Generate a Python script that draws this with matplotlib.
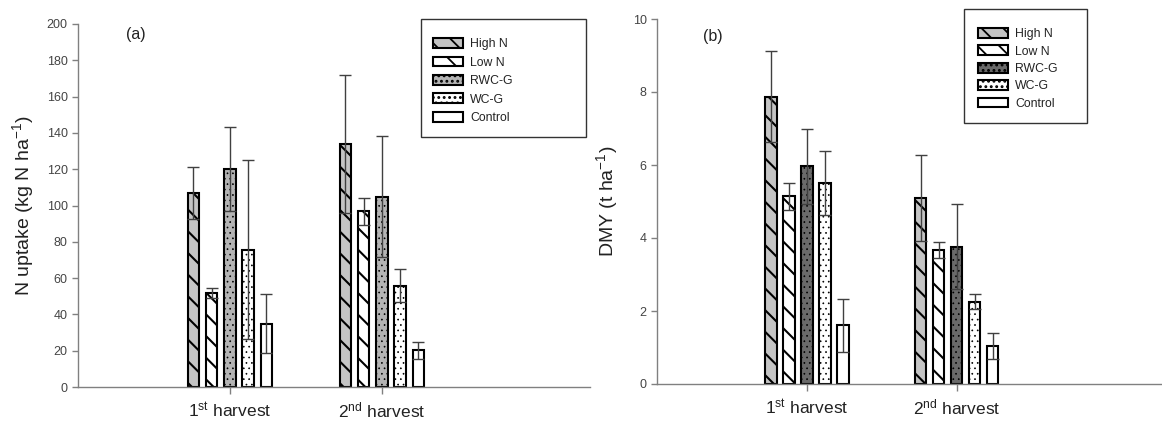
import matplotlib
matplotlib.use("Agg")
import matplotlib.pyplot as plt
from matplotlib.patches import Patch, Rectangle
import numpy as np

plt.rcParams['font.family'] = ['Liberation Sans', 'DejaVu Sans']
plt.rcParams['mathtext.fontset'] = 'custom'
plt.rcParams['mathtext.rm'] = 'Liberation Sans'
plt.rcParams['mathtext.default'] = 'regular'

treatments = ["High N", "Low N", "RWC-G", "WC-G", "Control"]
harvests = ["1$^{st}$ harvest", "2$^{nd}$ harvest"]

# (a) N uptake, kg N / ha
uptake_1st = [106.8, 51.9, 120.2, 75.6, 34.9]
uptake_2nd = [133.9, 96.9, 104.8, 55.8, 20.2]
uptake_err_1st = [14.3, 2.9, 23.3, 49.3, 16.3]
uptake_err_2nd = [37.8, 7.4, 33.4, 9.2, 4.6]

# (b) DMY, t / ha
dmy_1st = [7.87, 5.14, 5.96, 5.50, 1.61]
dmy_2nd = [5.10, 3.67, 3.76, 2.26, 1.04]
dmy_err_1st = [1.25, 0.36, 1.02, 0.87, 0.72]
dmy_err_2nd = [1.18, 0.23, 1.17, 0.20, 0.35]

# dpi 130 so the hatch spacing comes out close to the original
DPI = 130
S = 100 / DPI  # sizes below are written as if at 100 dpi

hatches = ['\\\\', '\\\\', '....', '....', '']
hatch_lw = [1.5 * S, 1.5 * S, 0.5 * S, 0.5 * S, 1.0 * S]
faces_a = ['#c4c4c4', 'white', '#b4b4b4', 'white', 'white']
faces_b = ['#c4c4c4', 'white', '#6a6a6a', 'white', 'white']

W, H = 1162, 423
fig = plt.figure(figsize=(W / DPI, H / DPI), dpi=DPI)

grey = '#808080'
txt = '#222222'


def set_hlw(artist, lw):
    if hasattr(artist, 'set_hatch_linewidth'):
        artist.set_hatch_linewidth(lw)


def panel(rect, vals1, vals2, err1, err2, faces, ylim, yticks, ylabel, tag,
          tag_xy, leg_rect, leg_rows, ylab_x):
    ax = fig.add_axes([rect[0] / W, 1 - rect[3] / H,
                       (rect[2] - rect[0]) / W, (rect[3] - rect[1]) / H])
    step = 0.12
    width = 0.076
    pos = np.array([1, 2])
    for i, name in enumerate(treatments):
        x = pos + (i - 2) * step
        y = [vals1[i], vals2[i]]
        e = [err1[i], err2[i]]
        with plt.rc_context({'hatch.linewidth': hatch_lw[i]}):
            bars = ax.bar(x, y, width, color=faces[i], edgecolor='black',
                          linewidth=1.5 * S, hatch=hatches[i], zorder=2)
        for b in bars:
            set_hlw(b, hatch_lw[i])
        ax.errorbar(x, y, yerr=e, fmt='none', ecolor='#404040',
                    elinewidth=1 * S, capsize=4 * S, capthick=1 * S,
                    zorder=3)
    ax.set_xlim(0, 3.37)
    ax.set_ylim(*ylim)
    ax.set_yticks(yticks)
    ax.set_xticks(pos)
    ax.set_xticklabels(harvests, fontsize=12.5 * S, color=txt)
    ax.tick_params(axis='y', labelsize=9 * S, colors=grey,
                   labelcolor='#444444', length=4 * S, width=1 * S,
                   pad=3.5 * S)
    ax.tick_params(axis='x', colors=grey, labelcolor=txt, length=5 * S,
                   width=1 * S, pad=5 * S)
    for s in ['top', 'right']:
        ax.spines[s].set_visible(False)
    for s in ['left', 'bottom']:
        ax.spines[s].set_color(grey)
        ax.spines[s].set_linewidth(1 * S)
    fig.text(ylab_x / W, 1 - (rect[1] + rect[3]) / 2 / H, ylabel,
             rotation=90, fontsize=14 * S, color=txt, ha='center',
             va='center')
    fig.text(tag_xy[0] / W, 1 - tag_xy[1] / H, tag, fontsize=11.5 * S,
             color=txt, ha='center', va='center')

    # legend frame and rows
    x0, y0, x1, y1 = leg_rect
    fig.patches.append(Rectangle((x0 / W, 1 - y1 / H), (x1 - x0) / W,
                                 (y1 - y0) / H, transform=fig.transFigure,
                                 fill=False, edgecolor='#333333',
                                 linewidth=1 * S))
    handles = []
    for i in range(5):
        with plt.rc_context({'hatch.linewidth': hatch_lw[i]}):
            p = Patch(facecolor=faces[i], edgecolor='black',
                      linewidth=1.5 * S, hatch=hatches[i])
        set_hlw(p, hatch_lw[i])
        handles.append(p)
    fig.legend(handles, treatments, loc='upper left',
               bbox_to_anchor=(leg_rows[0] / W, 1 - leg_rows[1] / H),
               frameon=False, fontsize=8.8 * S, handlelength=2.45,
               handleheight=0.85, labelspacing=leg_rows[2],
               handletextpad=0.6, borderpad=0, labelcolor=txt)
    return ax


panel((78, 24, 590, 387), uptake_1st, uptake_2nd, uptake_err_1st,
      uptake_err_2nd, faces_a, (0, 200), range(0, 201, 20),
      "N uptake (kg N ha$^{-1}$)", "(a)", (136, 34),
      (421, 19, 586, 137), (427, 32, 0.52), 23)

panel((657, 19, 1162, 384), dmy_1st, dmy_2nd, dmy_err_1st, dmy_err_2nd,
      faces_b, (0, 10), range(0, 11, 2), "DMY (t ha$^{-1}$)", "(b)",
      (713, 37), (964, 9, 1087, 123), (972, 22, 0.43), 607)

fig.savefig("out.png", dpi=DPI)
